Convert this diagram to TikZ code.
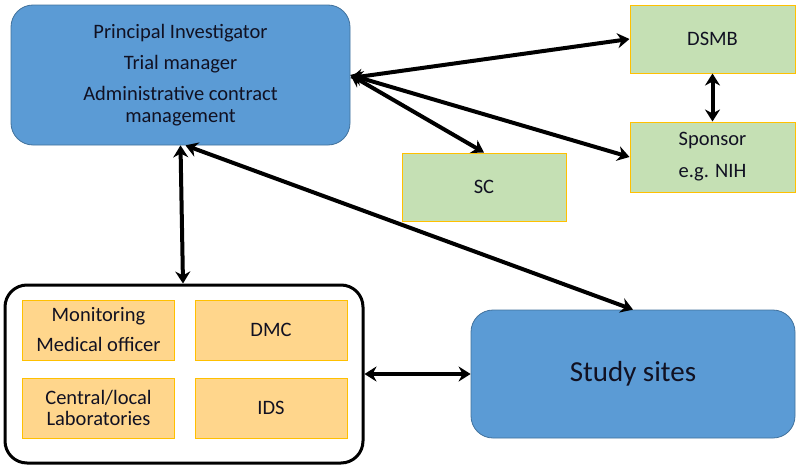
\documentclass[tikz,border=0pt]{standalone}
\usepackage{fontspec}
\setmainfont{Carlito}
\usetikzlibrary{arrows.meta}
\definecolor{bluebox}{HTML}{5B9BD5}
\definecolor{blueedge}{HTML}{41719C}
\definecolor{greenbox}{HTML}{C5E0B4}
\definecolor{goldedge}{HTML}{FFC000}
\definecolor{orangebox}{HTML}{FFD68C}
\definecolor{txt}{HTML}{111122}
\begin{document}
\begin{tikzpicture}[x=1pt,y=-1pt,
  bluenode/.style={draw=blueedge,line width=0.8pt,fill=bluebox,rounded corners=22pt,align=center,inner sep=0pt,text=txt,font=\fontsize{20.5}{22}\selectfont},
  greennode/.style={draw=goldedge,line width=1pt,fill=greenbox,align=center,inner sep=0pt,text=txt,font=\fontsize{20.5}{32}\selectfont},
  orangenode/.style={draw=goldedge,line width=0.8pt,fill=orangebox,align=center,inner sep=0pt,text=txt,minimum width=152pt,minimum height=60pt},
  conn/.style={line width=4pt,{Stealth[length=12pt,width=15pt]}-{Stealth[length=12pt,width=15pt]}}]
\useasboundingbox (0,0) rectangle (800,471);
\node[bluenode,minimum width=339pt,minimum height=140pt] (top) at (180.5,75)
  {Principal Investigator\\[9pt]Trial manager\\[9pt]Administrative contract\\management};
\node[greennode,minimum width=165pt,minimum height=68pt] (dsmb) at (712.5,39) {DSMB};
\node[greennode,minimum width=165pt,minimum height=70pt] (sponsor) at (712.5,157) {Sponsor\\e.g. NIH};
\node[greennode,minimum width=164pt,minimum height=68pt] (sc) at (484,187) {SC};
\node[draw=black,line width=3pt,fill=white,rounded corners=22pt,minimum width=358pt,minimum height=178pt] (grp) at (184,374) {};
\node[orangenode,font=\fontsize{20.5}{30}\selectfont] (mon) at (98.5,330) {Monitoring\\Medical officer};
\node[orangenode,font=\fontsize{20.5}{21}\selectfont] (dmc) at (271,330) {DMC};
\node[orangenode,font=\fontsize{20.5}{21}\selectfont] (lab) at (98.5,408) {Central/local\\Laboratories};
\node[orangenode,font=\fontsize{20.5}{21}\selectfont] (ids) at (271,408) {IDS};
\node[bluenode,font=\fontsize{29}{32}\selectfont,minimum width=324pt,minimum height=128pt] (study) at (633,374) {Study sites};
\draw[conn] ([yshift=-3pt]top.east) -- (dsmb.west);
\draw[conn] (top.east) -- (sc.north);
\draw[conn] (top.east) -- (sponsor.west);
\draw[conn] (dsmb.south) -- (sponsor.north);
\draw[conn] (top.south) -- ([xshift=-1pt]grp.north);
\draw[conn] ([xshift=5pt]top.south) -- (study.north);
\draw[conn] (grp.east) -- (study.west);
\end{tikzpicture}
\end{document}
